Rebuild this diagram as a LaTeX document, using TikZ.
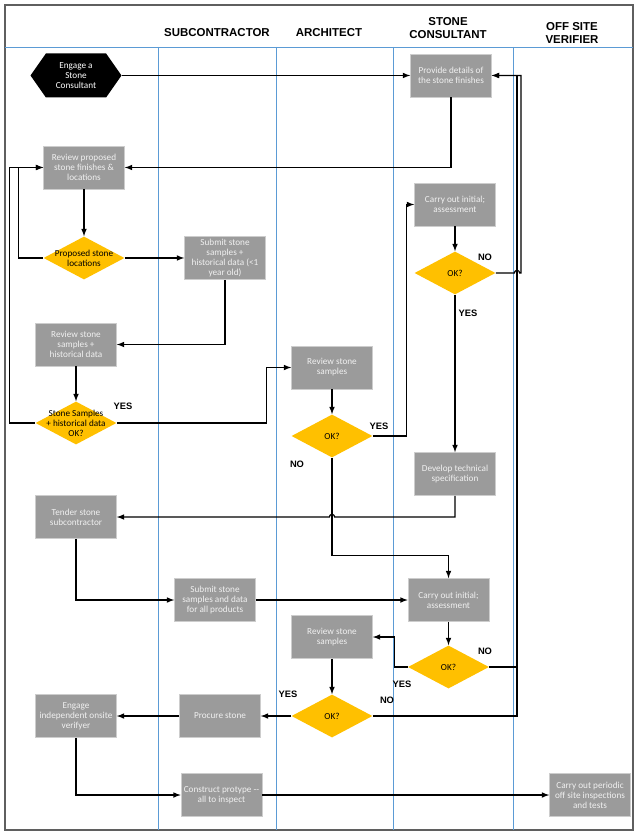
\documentclass[tikz,border=0pt]{standalone}
\usepackage{fontspec}
\usetikzlibrary{shapes.geometric,shapes.symbols}
\newfontfamily\boxfont{Carlito}
\newfontfamily\headfont{Liberation Sans}
\definecolor{boxgray}{RGB}{155,155,155}
\definecolor{boxedge}{RGB}{205,205,205}
\definecolor{amber}{RGB}{255,192,0}
\definecolor{laneblue}{RGB}{91,155,213}
\definecolor{framegray}{RGB}{95,95,95}

\begin{document}
\begin{tikzpicture}[x=0.75pt, y=-0.75pt,
  task/.style={rectangle, fill=boxgray, draw=boxedge, line width=0.4pt,
    minimum width=60.75pt, minimum height=32.25pt, inner sep=1pt,
    align=center, text=white!94!black, font=\boxfont\fontsize{6.9}{7.6}\selectfont},
  terminal/.style={signal, signal to=west and east, signal pointer angle=110,
    fill=black, minimum width=68.25pt, minimum height=33pt, inner sep=1pt,
    align=center, text=white, font=\boxfont\fontsize{6.9}{7.6}\selectfont},
  decision/.style={diamond, fill=amber, minimum width=60.75pt,
    minimum height=32.25pt, inner sep=0pt},
  dtext/.style={align=center, inner sep=0pt, font=\boxfont\fontsize{6.9}{7.6}\selectfont},
  answer/.style={inner sep=0pt, font=\headfont\bfseries\fontsize{7}{8}\selectfont},
  heading/.style={inner sep=0pt, align=center, font=\headfont\bfseries\fontsize{8.6}{9.2}\selectfont},
  flow/.style={-{latex[scale=1.25]}, line width=0.9pt},
  ]
  \useasboundingbox (0,0) rectangle (640,837);
  \draw[framegray, line width=1.2pt] (5,5) rectangle (633,830);
  \draw[laneblue, line width=0.6pt] (5,47) -- (633,47);
  \foreach \x in {158,276,393,513}
    \draw[laneblue, line width=0.6pt] (\x,47) -- (\x,830);

  \node[heading] (hsub) at (217,33) {SUBCONTRACTOR};
  \node[heading] (harch) at (329,33) {ARCHITECT};
  \node[heading] (hcons) at (448,28) {STONE\\CONSULTANT};
  \node[heading] (hver) at (572,33) {OFF SITE\\VERIFIER};

  \node[terminal] (engage) at (76,75.5) {Engage a\\Stone\\Consultant};
  \node[task] (prov) at (451,75.5) {Provide details of\\the stone finishes};
  \node[task] (rev1) at (84,167.5) {Review proposed\\stone finishes \&\\locations};
  \node[decision, label={[dtext]center:Proposed stone\\locations}] (pd) at (84,258) {};
  \node[task] (sub1) at (225,258) {Submit stone\\samples +\\historical data (<1\\year old)};
  \node[task] (rs1) at (76,344.5) {Review stone\\samples +\\historical data};
  \node[decision, label={[dtext]center:Stone Samples\\+ historical data\\OK?}] (ss) at (76,423) {};
  \node[task] (rsA) at (332,367.5) {Review stone\\samples};
  \node[decision, label={[dtext]center:OK?}] (okA) at (332,436) {};
  \node[task] (co1) at (455,204.5) {Carry out initial;\\assessment};
  \node[decision, label={[dtext]center:OK?}] (ok1) at (455,273) {};
  \node[task] (dev) at (455,474) {Develop technical\\specification};
  \node[task] (tender) at (76,517) {Tender stone\\subcontractor};
  \node[task] (sub2) at (215,600) {Submit stone\\samples and data\\for all products};
  \node[task] (co2) at (448.5,600) {Carry out initial;\\assessment};
  \node[decision, label={[dtext]center:OK?}] (ok2) at (448.5,667) {};
  \node[task] (rsB) at (332,637) {Review stone\\samples};
  \node[decision, label={[dtext]center:OK?}] (okB) at (332,716) {};
  \node[task] (proc) at (220,716) {Procure stone};
  \node[task] (eng) at (76,716) {Engage\\independent onsite\\verifyer};
  \node[task] (cons) at (221.5,795) {Construct protype --\\all to inspect};
  \node[task] (per) at (590,795) {Carry out periodic\\off site inspections\\and tests};

  \coordinate (busA) at (517,75.5);
  \coordinate (busB) at (521,75.5);

  \draw[flow] (engage.east) -- (prov.west);
  \draw[flow] (prov.south) |- (rev1.east);
  \draw[flow] (rev1.south) -- (pd.north);
  \draw[flow] (pd.east) -- (sub1.west);
  \draw[flow] (pd.west) -- ++(-25,0) |- (rev1.west);
  \draw[flow] (sub1.south) |- (rs1.east);
  \draw[flow] (rs1.south) -- (ss.north);
  \draw[flow] (ss.west) -- ++(-26,0) |- (rev1.west);
  \draw[flow] (ss.east) -- ++(150,0) |- (rsA.west);
  \draw[flow] (rsA.south) -- (okA.north);
  \draw[flow] (okA.east) -- ++(34,0) |- (co1.west);
  \draw[flow] (co1.south) -- (ok1.north);
  \draw[flow] (ok1.south) -- (dev.north);
  \draw[flow] (ok1.east) -- ([xshift=-2pt]ok1.east -| busA)
    arc[start angle=180, end angle=0, radius=2pt] -| (busB) -- (prov.east);
  \draw[flow] (dev.south) |- ([xshift=2pt]okA.south |- tender.east)
    arc[start angle=0, end angle=180, radius=2pt] -- (tender.east);
  \draw[flow] (okA.south) -- ++(0,98) -| (co2.north);
  \draw[flow] (tender.south) |- (sub2.west);
  \draw[flow] (sub2.east) -- (co2.west);
  \draw[flow] (co2.south) -- (ok2.north);
  \draw[flow] (ok2.west) -- ++(-13,0) |- (rsB.east);
  \draw[flow] (rsB.south) -- (okB.north);
  \draw[flow] (okB.west) -- (proc.east);
  \draw[flow] (proc.west) -- (eng.east);
  \draw[flow] (eng.south) |- (cons.west);
  \draw[flow] (cons.east) -- (per.west);
  \draw[flow] (okB.east) -| (busA) -- (prov.east);
  \draw[line width=0.9pt] (ok2.east) -- (ok2.east -| busA);

  \node[answer] (yes1) at (123,406) {YES};
  \node[answer] (no1) at (485,257) {NO};
  \node[answer] (yes2) at (468,313) {YES};
  \node[answer] (yes3) at (379,426) {YES};
  \node[answer] (no2) at (297,464) {NO};
  \node[answer] (no3) at (485,651) {NO};
  \node[answer] (yes4) at (402,684) {YES};
  \node[answer] (yes5) at (288,694) {YES};
  \node[answer] (no4) at (387,700) {NO};
\end{tikzpicture}
\end{document}
